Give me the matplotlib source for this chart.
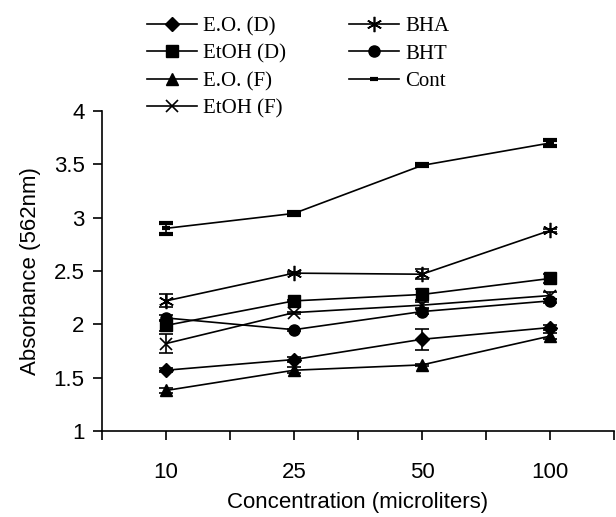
import matplotlib.pyplot as plt
from matplotlib.ticker import FixedLocator

# data
conc = ['10', '25', '50', '100']
eo_d = [1.57, 1.67, 1.86, 1.97]
etoh_d = [1.99, 2.22, 2.28, 2.43]
eo_f = [1.38, 1.57, 1.62, 1.89]
etoh_f = [1.82, 2.11, 2.18, 2.27]
bha = [2.22, 2.48, 2.47, 2.88]
bht = [2.06, 1.95, 2.12, 2.22]
cont = [2.90, 3.04, 3.49, 3.70]

eo_d_err = [0.02, 0.02, 0.10, 0.02]
etoh_d_err = [0.05, 0.01, 0.05, 0.04]
eo_f_err = [0.02, 0.03, 0.01, 0.03]
etoh_f_err = [0.09, 0.01, 0.03, 0.03]
bha_err = [0.06, 0.01, 0.045, 0.01]
bht_err = [0.03, 0.01, 0.02, 0.02]
cont_err = [0.05, 0.015, 0.01, 0.03]

fig = plt.figure(figsize=(6.16, 5.17), dpi=100)
ax = fig.add_axes([0.1656, 0.1663, 0.8312, 0.619])

x = range(1, len(conc) + 1)
series = [
    ('E.O. (D)', eo_d, eo_d_err, dict(marker='D', ms=7)),
    ('EtOH (D)', etoh_d, etoh_d_err, dict(marker='s', ms=8)),
    ('E.O. (F)', eo_f, eo_f_err, dict(marker='^', ms=9)),
    ('EtOH (F)', etoh_f, etoh_f_err, dict(marker='x', ms=9, mew=1.2)),
    ('BHA', bha, bha_err, dict(marker=(6, 2, 0), ms=11, mew=1.2)),
    ('BHT', bht, bht_err, dict(marker='o', ms=8)),
    ('Cont', cont, cont_err, dict(marker='_', ms=6, mew=3)),
]

for name, y, err, style in series:
    ax.errorbar(x, y, yerr=err, color='black', lw=1.2, capsize=5,
                elinewidth=1.2, capthick=1.2, label=name, **style)

ax.set_xlim(0.5, 4.5)
ax.set_ylim(1, 4)
ax.set_yticks([1, 1.5, 2, 2.5, 3, 3.5, 4])
ax.set_yticklabels(['1', '1.5', '2', '2.5', '3', '3.5', '4'])
ax.set_xticks(list(x))
ax.set_xticklabels(conc)
ax.xaxis.set_minor_locator(FixedLocator([0.5, 1.5, 2.5, 3.5, 4.5]))

ax.spines['top'].set_visible(False)
ax.spines['right'].set_visible(False)
for s in ['left', 'bottom']:
    ax.spines[s].set_linewidth(1.2)

ax.tick_params(axis='x', which='both', direction='out', length=6.5, width=1.2,
               pad=16, labelsize=16)
ax.tick_params(axis='y', direction='out', length=6.5, width=1.2, pad=6,
               labelsize=16)
for lbl in ax.get_xticklabels() + ax.get_yticklabels():
    lbl.set_family('Liberation Sans')

ax.set_xlabel('Concentration (microliters)', fontsize=16,
              family='Liberation Sans', labelpad=6)
ax.set_ylabel('Absorbance (562nm)', fontsize=16, family='Liberation Sans',
              labelpad=9)

handles, labels = ax.get_legend_handles_labels()
handles = [h[0] for h in handles]
fig.legend(handles, labels, loc='upper left', bbox_to_anchor=(0.2386, 0.968),
           ncol=2, frameon=False, prop={'family': 'Liberation Serif', 'size': 15},
           handlelength=2.4, handletextpad=0.3, columnspacing=3.0,
           labelspacing=0.38, borderpad=0, borderaxespad=0)

fig.savefig('out.png', dpi=100)
